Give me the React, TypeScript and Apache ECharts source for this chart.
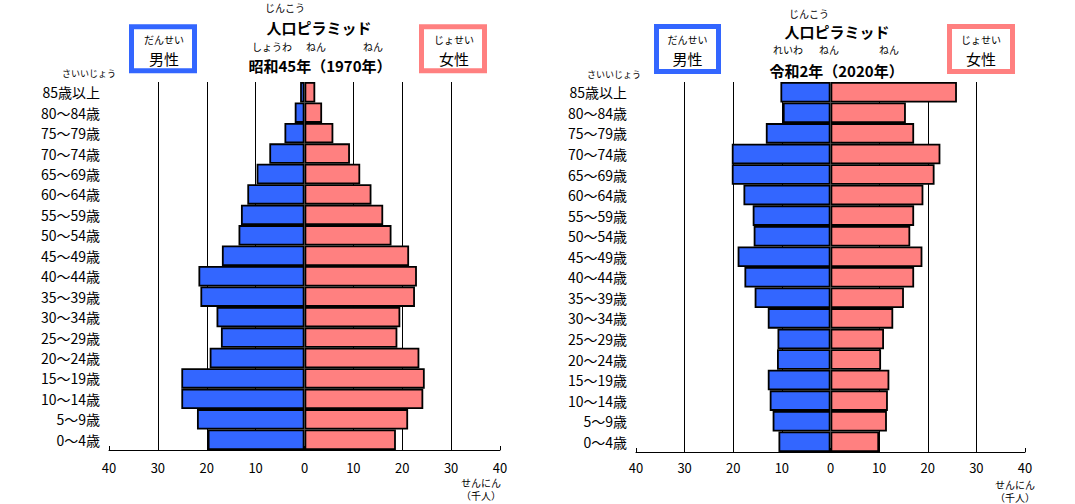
import React, { useEffect, useRef } from "react";
import * as echarts from "echarts";

const ages = [
  "0～4歳", "5～9歳", "10～14歳", "15～19歳", "20～24歳", "25～29歳",
  "30～34歳", "35～39歳", "40～44歳", "45～49歳", "50～54歳", "55～59歳",
  "60～64歳", "65～69歳", "70～74歳", "75～79歳", "80～84歳", "85歳以上",
];

// thousand persons, bottom (0-4) to top (85+)
const male1970 = [19.8, 22.0, 25.2, 25.2, 19.4, 17.1, 18.0, 21.3, 21.7, 16.9, 13.5, 13.0, 11.7, 9.8, 7.2, 4.1, 2.0, 0.9];
const female1970 = [18.7, 21.2, 24.3, 24.6, 23.5, 19.0, 19.6, 22.6, 23.0, 21.4, 17.8, 16.1, 13.7, 11.4, 9.3, 5.9, 3.6, 2.2];
const male2020 = [10.7, 11.9, 12.5, 12.9, 11.0, 10.9, 12.9, 15.6, 17.7, 19.1, 15.8, 16.0, 17.9, 20.3, 20.3, 13.3, 9.8, 10.3];
const female2020 = [10.0, 11.6, 11.8, 12.1, 10.4, 11.0, 12.9, 15.1, 17.2, 18.9, 16.4, 17.2, 19.1, 21.4, 22.6, 17.2, 15.5, 26.0];

const FONT = '"Noto Sans CJK JP", "Noto Sans", sans-serif';
const BLUE = "#3366FF";
const PINK = "#FF8080";

function txt(text: string, x: number, y: number, size: number, bold = false, align = "center", lh = size + 1) {
  return {
    type: "text",
    x,
    y,
    z: 100,
    style: {
      text,
      fontSize: size,
      lineHeight: lh,
      fontWeight: bold ? "bold" : "normal",
      fontFamily: FONT,
      fill: "#000",
      align,
      verticalAlign: "middle",
    },
  };
}

function box(x: number, y: number, w: number, h: number, color: string) {
  return {
    type: "rect",
    z: 100,
    shape: { x, y, width: w, height: h },
    style: { fill: "#fff", stroke: color, lineWidth: 5 },
  };
}

const gridColors = [
  "rgba(0,0,0,0)", "#000", "#000", "#000", "rgba(0,0,0,0)", "#000", "#000", "#000", "rgba(0,0,0,0)",
];

function xAxisDef(gridIndex: number, margin: number) {
  return {
    type: "value",
    gridIndex,
    min: -40,
    max: 40,
    interval: 10,
    axisLine: { show: true, lineStyle: { color: "#000", width: 1 } },
    axisTick: { show: true, inside: true, length: 4, lineStyle: { color: "#000" } },
    axisLabel: {
      formatter: (v: number) => String(Math.abs(v)),
      color: "#000",
      fontSize: 13,
      lineHeight: 13,
      fontFamily: FONT,
      margin,
    },
    splitLine: { show: true, lineStyle: { color: gridColors, width: 1 } },
  };
}

function yAxisDef(gridIndex: number) {
  return {
    type: "category",
    gridIndex,
    data: ages,
    axisLine: { show: false },
    axisTick: { show: false },
    axisLabel: { color: "#000", fontSize: 14, lineHeight: 16, fontFamily: FONT, margin: 9 },
  };
}

function barSeries(idx: number, data: number[], color: string) {
  return {
    type: "bar",
    xAxisIndex: idx,
    yAxisIndex: idx,
    data,
    barCategoryGap: "0%",
    barGap: "-100%",
    itemStyle: { color, borderColor: "#000", borderWidth: 1.8 },
    z: 3,
  };
}

export default function App() {
  const ref = useRef<HTMLDivElement>(null);
  useEffect(() => {
    if (!ref.current) return;
    const chart = echarts.init(ref.current, undefined, { renderer: "svg" });
    chart.setOption({
      animation: false,
      backgroundColor: "#fff",
      grid: [
        { left: 109, top: 82, width: 391, height: 368 },
        { left: 636, top: 82, width: 389, height: 370 },
      ],
      xAxis: [xAxisDef(0, 11), xAxisDef(1, 9)],
      yAxis: [yAxisDef(0), yAxisDef(1)],
      series: [
        barSeries(0, male1970.map((v) => -v), BLUE),
        barSeries(0, female1970, PINK),
        barSeries(1, male2020.map((v) => -v), BLUE),
        barSeries(1, female2020, PINK),
      ],
      graphic: [
        // left chart header
        txt("じんこう", 285, 7, 10),
        txt("人口ピラミッド", 319, 27, 15, true),
        txt("しょうわ", 272, 46.7, 10),
        txt("ねん", 316, 46.7, 10),
        txt("ねん", 373, 46.7, 10),
        txt("昭和45年（1970年）", 320, 65.8, 15, true),
        box(131.5, 26.8, 63, 44, BLUE),
        txt("だんせい", 164, 39.3, 10),
        txt("男性", 164, 58.3, 15),
        box(421.5, 26.8, 63, 44, PINK),
        txt("じょせい", 454, 39.3, 10),
        txt("女性", 454, 58.3, 15),
        txt("さいいじょう", 89, 73.7, 9),
        txt("せんにん\n（千人）", 481, 488.5, 10, false, "center", 13),
        // right chart header
        txt("じんこう", 809, 13.7, 10),
        txt("人口ピラミッド", 837, 31, 15, true),
        txt("れいわ", 788, 49.7, 10),
        txt("ねん", 829, 49.7, 10),
        txt("ねん", 889, 49.7, 10),
        txt("令和2年（2020年）", 836.5, 70.3, 15, true),
        box(656.5, 26.5, 62, 45, BLUE),
        txt("だんせい", 687.5, 39.4, 10),
        txt("男性", 687.5, 58.3, 15),
        box(949.5, 26.5, 63, 45, PINK),
        txt("じょせい", 981, 39.4, 10),
        txt("女性", 981, 58.3, 15),
        txt("さいいじょう", 614, 74.4, 9),
        txt("せんにん\n（千人）", 1015, 491, 10, false, "center", 13),
      ],
    });
    return () => chart.dispose();
  }, []);
  return (
    <div
      ref={ref}
      style={{ position: "fixed", left: 0, top: 0, width: 1075, height: 504, background: "#fff" }}
    />
  );
}
